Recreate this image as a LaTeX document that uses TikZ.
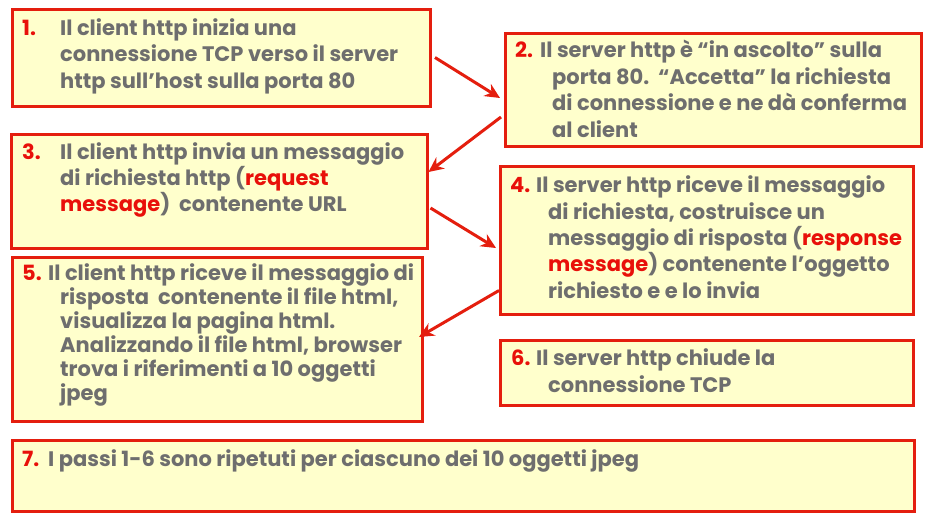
\documentclass[tikz,border=0pt]{standalone}
\usepackage{fontspec}
\setmainfont{Poppins}
\usetikzlibrary{arrows.meta}
\definecolor{boxfill}{HTML}{FFFFCC}
\definecolor{boxred}{HTML}{E41E0E}
\definecolor{numred}{HTML}{E8100A}
\definecolor{txtgray}{HTML}{6E6E6E}
\newcommand{\nm}[2]{\leavevmode\makebox[#1][l]{\color{numred}#2}}
\newcommand{\hl}[1]{{\color{numred}#1}}
\tikzset{
  box/.style={draw=boxred, fill=boxfill, line width=3pt, rectangle, inner sep=0pt},
  txt/.style={anchor=base west, inner sep=0pt, text=txtgray, font=\bfseries},
  arr/.style={draw=boxred, line width=3pt, -{Stealth[length=15pt,width=14pt]}},
}
\begin{document}
\begin{tikzpicture}[x=1pt,y=-1pt]
\useasboundingbox (0,0) rectangle (932,520);
% boxes
\node[box, minimum width=418pt, minimum height=97pt] (b1) at (221.5,57.5) {};
\node[box, minimum width=416pt, minimum height=114pt] (b3) at (219,191) {};
\node[box, minimum width=410pt, minimum height=164pt] (b5) at (217.5,339.5) {};
\node[box, minimum width=902pt, minimum height=71pt] (b7) at (463,475.5) {};
\node[box, minimum width=416pt, minimum height=113pt] (b2) at (713.5,90) {};
\node[box, minimum width=413pt, minimum height=148pt] (b4) at (707,240.5) {};
\node[box, minimum width=413pt, minimum height=65pt] (b6) at (707,373) {};
% texts
\node[txt] (t1) at (22,35) {\parbox[t]{410pt}{\fontsize{21}{26.6}\selectfont
  \nm{38pt}{1.}Il client http inizia una\\
  \hspace*{38pt}connessione TCP verso il server\\
  \hspace*{38pt}http sull’host sulla porta 80}};
\node[txt] (t3) at (22,159.3) {\parbox[t]{410pt}{\fontsize{21}{26.2}\selectfont
  \nm{38pt}{3.}Il client http invia un messaggio\\
  \hspace*{38pt}di richiesta http (\hl{request}\\
  \hspace*{38pt}\hl{message})\ \ contenente URL}};
\node[txt] (t5) at (22,280.7) {\parbox[t]{410pt}{\fontsize{21}{23.9}\selectfont
  \nm{26pt}{5.}Il client http riceve il messaggio di\\
  \hspace*{38pt}risposta\ \ contenente il file html,\\
  \hspace*{38pt}visualizza la pagina html.\\
  \hspace*{38pt}Analizzando il file html, browser\\
  \hspace*{38pt}trova i riferimenti a 10 oggetti\\
  \hspace*{38pt}jpeg}};
\node[txt] (t7) at (22,466.7) {\fontsize{21}{24}\selectfont
  \nm{26pt}{7.}I passi 1-6 sono ripetuti per ciascuno dei 10 oggetti jpeg};
\node[txt] (t2) at (515,57.7) {\parbox[t]{410pt}{\fontsize{21}{26.5}\selectfont
  \nm{25pt}{2.}Il server http è “in ascolto” sulla\\
  \hspace*{37pt}porta 80.\ \ “Accetta” la richiesta\\
  \hspace*{37pt}di connessione e ne dà conferma\\
  \hspace*{37pt}al client}};
\node[txt] (t4) at (510,192.7) {\parbox[t]{410pt}{\fontsize{21}{26.4}\selectfont
  \nm{26pt}{4.}Il server http riceve il messaggio\\
  \hspace*{38pt}di richiesta, costruisce un\\
  \hspace*{38pt}messaggio di risposta (\hl{response}\\
  \hspace*{38pt}\hl{message}) contenente l’oggetto\\
  \hspace*{38pt}richiesto e e lo invia}};
\node[txt] (t6) at (511,365) {\parbox[t]{400pt}{\fontsize{21}{27.7}\selectfont
  \nm{25pt}{6.}Il server http chiude la\\
  \hspace*{37pt}connessione TCP}};
% arrows
\draw[arr] ([xshift=3pt]b1.east) -- ([xshift=-4pt,yshift=-8pt]b2.west);
\draw[arr] ([xshift=-3pt,yshift=-27pt]b2.west) -- ([yshift=19pt]b3.east);
\draw[arr] ([xshift=2pt,yshift=-17pt]b3.east) -- ([xshift=-3pt,yshift=-7.5pt]b4.west);
\draw[arr] ([yshift=-50pt]b4.west) -- ([xshift=-5pt,yshift=2.5pt]b5.east);
\end{tikzpicture}
\end{document}
